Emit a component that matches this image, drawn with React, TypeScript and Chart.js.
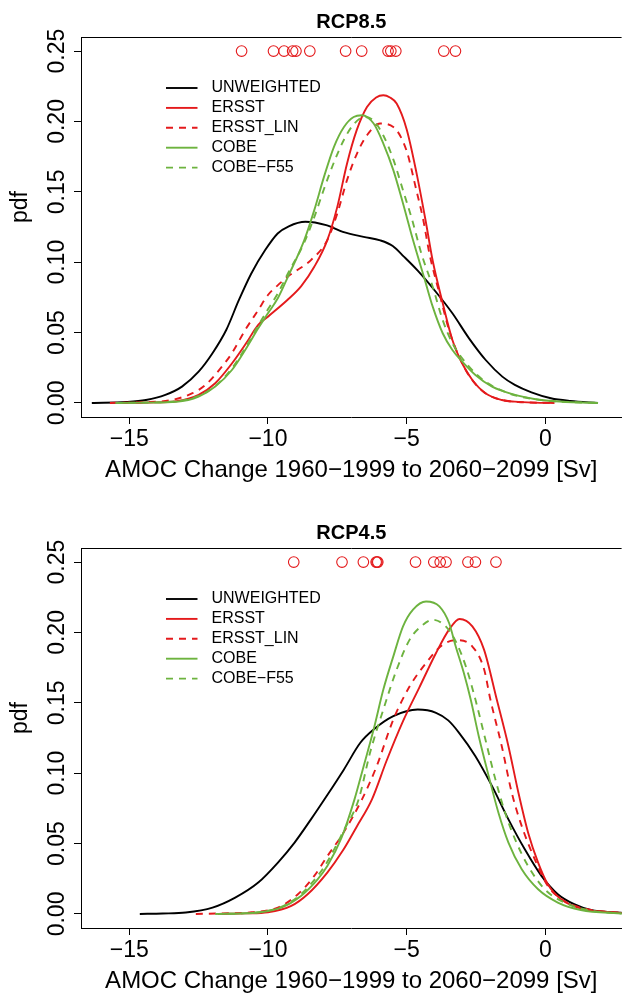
import React, { useEffect, useRef } from 'react';
import { Chart, registerables } from 'chart.js';

Chart.register(...registerables);

const FONT = '"Liberation Sans", Arial, Helvetica, sans-serif';
const BLACK = '#000000';
const RED = '#e41a1c';
const GREEN = '#6db33f';

const X_TICKS = [-15, -10, -5, 0];
const Y_TICKS = [0, 0.05, 0.1, 0.15, 0.2, 0.25];
const X_TITLE = 'AMOC Change 1960\u22121999 to 2060\u22122099 [Sv]';
const Y_TITLE = 'pdf';
const SERIES_LABELS = ['UNWEIGHTED', 'ERSST', 'ERSST_LIN', 'COBE', 'COBE\u2212F55'];
const MODEL_MARK_Y = 0.25;

// ---------- RCP8.5 ----------
const RCP85_MODELS = [-10.95, -9.8, -9.42, -9.11, -8.99, -8.49, -7.2, -6.62, -5.67, -5.57, -5.39, -3.66, -3.24];

const RCP85_UNWEIGHTED = [
  [-16.35, 0], [-15.1, 0.0007], [-14.4, 0.0021], [-13.7, 0.0057], [-13.1, 0.0116], [-12.5, 0.0222],
  [-12.0, 0.0353], [-11.5, 0.052], [-11.05, 0.073], [-10.6, 0.092], [-10.1, 0.1086], [-9.65, 0.1204],
  [-9.25, 0.1255], [-8.65, 0.1287], [-7.9, 0.1263], [-7.3, 0.1215], [-6.55, 0.118], [-5.95, 0.1155],
  [-5.5, 0.1115], [-5.1, 0.104], [-4.6, 0.094], [-3.95, 0.079], [-3.35, 0.0637], [-2.75, 0.0459],
  [-2.15, 0.0305], [-1.55, 0.0187], [-1.1, 0.0128], [-0.5, 0.0075], [0.2, 0.0033], [0.9, 0.0014], [1.9, 0],
];
const RCP85_ERSST = [
  [-15.3, 0], [-14.3, 0.0003], [-13.3, 0.0012], [-12.5, 0.0057], [-11.9, 0.014], [-11.3, 0.028],
  [-10.8, 0.042], [-10.35, 0.0555], [-10.0, 0.0613], [-9.3, 0.0731], [-8.8, 0.083], [-8.33, 0.0967],
  [-7.86, 0.1157], [-7.5, 0.1393], [-7.15, 0.17], [-6.8, 0.1938], [-6.43, 0.2103], [-6.1, 0.217],
  [-5.84, 0.2186], [-5.6, 0.217], [-5.36, 0.2127], [-5.0, 0.1945], [-4.65, 0.164], [-4.32, 0.13],
  [-4.06, 0.101], [-3.7, 0.071], [-3.35, 0.0447], [-3.0, 0.0282], [-2.63, 0.0163], [-2.16, 0.0069],
  [-1.57, 0.0021], [-1.1, 0.0009], [-0.4, 0.0002], [0.33, 0],
];
const RCP85_ERSST_LIN = [
  [-15.7, 0], [-14.5, 0.0005], [-13.5, 0.002], [-12.72, 0.0069], [-12.25, 0.0128], [-11.66, 0.0258],
  [-11.3, 0.0353], [-10.82, 0.0518], [-10.35, 0.066], [-10.0, 0.0767], [-9.64, 0.0837], [-9.2, 0.091],
  [-8.45, 0.1015], [-7.86, 0.1157], [-7.5, 0.1346], [-7.15, 0.1583], [-6.79, 0.1772], [-6.43, 0.1902],
  [-5.96, 0.1985], [-5.48, 0.1961], [-5.01, 0.1796], [-4.65, 0.1512], [-4.4, 0.13], [-4.18, 0.1062],
  [-3.82, 0.0779], [-3.47, 0.0518], [-3.11, 0.0329], [-2.7, 0.018], [-2.2, 0.0075], [-1.6, 0.0022],
  [-0.8, 0.0005], [0.3, 0],
];
const RCP85_COBE = [
  [-15.4, 0], [-14.3, 0.0002], [-13.3, 0.0008], [-12.5, 0.0045], [-11.9, 0.0116], [-11.3, 0.0234],
  [-10.82, 0.0376], [-10.35, 0.053], [-10.0, 0.0637], [-9.64, 0.0745], [-9.28, 0.0896], [-8.69, 0.1157],
  [-8.33, 0.137], [-7.98, 0.1606], [-7.62, 0.182], [-7.26, 0.1961], [-6.91, 0.2032], [-6.61, 0.2044],
  [-6.19, 0.1985], [-5.84, 0.1843], [-5.48, 0.1654], [-5.13, 0.1417], [-4.77, 0.1157], [-4.36, 0.0885],
  [-4.06, 0.0684], [-3.7, 0.0495], [-3.35, 0.0376], [-2.99, 0.0293], [-2.52, 0.0199], [-1.92, 0.0116],
  [-1.09, 0.0057], [-0.4, 0.0028], [0.2, 0.0014], [1.0, 0.0005], [1.9, 0],
];
const RCP85_COBE_F55 = [
  [-15.5, 0], [-14.3, 0.0003], [-13.3, 0.0012], [-12.5, 0.005], [-11.9, 0.012], [-11.3, 0.0245],
  [-10.82, 0.039], [-10.35, 0.055], [-10.0, 0.0665], [-9.64, 0.078], [-9.28, 0.092], [-8.69, 0.114],
  [-8.33, 0.132], [-7.98, 0.152], [-7.62, 0.171], [-7.26, 0.187], [-6.91, 0.198], [-6.52, 0.2032],
  [-6.19, 0.2005], [-5.84, 0.19], [-5.48, 0.173], [-5.13, 0.151], [-4.8, 0.13], [-4.47, 0.1062],
  [-4.06, 0.0826], [-3.7, 0.0589], [-3.35, 0.0424], [-2.75, 0.0258], [-2.16, 0.0151], [-1.33, 0.0069],
  [-0.5, 0.003], [0.5, 0.001], [1.9, 0],
];

// ---------- RCP4.5 ----------
const RCP45_MODELS = [-9.07, -7.33, -6.56, -6.1, -6.07, -6.04, -4.68, -4.02, -3.79, -3.58, -2.79, -2.52, -1.78];

const RCP45_UNWEIGHTED = [
  [-14.62, 0], [-13.8, 0.0003], [-12.96, 0.001], [-12.0, 0.0045], [-11.18, 0.0116], [-10.35, 0.0223],
  [-9.64, 0.0365], [-9.04, 0.0507], [-8.45, 0.0672], [-7.86, 0.0845], [-7.26, 0.1027], [-6.67, 0.1216],
  [-6.19, 0.131], [-5.48, 0.1405], [-4.6, 0.1452], [-3.94, 0.1429], [-3.5, 0.1375], [-3.11, 0.1287],
  [-2.52, 0.1121], [-1.92, 0.0908], [-1.33, 0.0672], [-0.74, 0.0459], [-0.14, 0.027], [0.45, 0.014],
  [1.04, 0.0069], [1.64, 0.0028], [2.6, 0.001], [3.5, 0.0002],
];
const RCP45_ERSST = [
  [-11.8, 0], [-10.8, 0.0004], [-10.0, 0.0012], [-9.16, 0.0057], [-8.57, 0.014], [-7.86, 0.0294],
  [-7.3, 0.045], [-6.8, 0.062], [-6.25, 0.0814], [-5.72, 0.109], [-5.13, 0.137], [-4.54, 0.161],
  [-3.94, 0.1854], [-3.47, 0.202], [-3.09, 0.2096], [-2.63, 0.2043], [-2.21, 0.1878], [-1.75, 0.1523],
  [-1.33, 0.1192], [-0.97, 0.0861], [-0.62, 0.0577], [-0.26, 0.0365], [0.09, 0.0211], [0.57, 0.0104],
  [1.28, 0.0038], [2.23, 0.0014], [3.3, 0],
];
const RCP45_ERSST_LIN = [
  [-12.6, 0], [-11.6, 0.0004], [-10.59, 0.0012], [-9.64, 0.0045], [-8.92, 0.014], [-8.33, 0.027],
  [-7.86, 0.041], [-7.3, 0.057], [-6.61, 0.0814], [-6.08, 0.105], [-5.48, 0.1381], [-4.89, 0.1617],
  [-4.3, 0.1783], [-3.7, 0.1913], [-3.2, 0.1945], [-2.63, 0.19], [-2.21, 0.174], [-1.98, 0.1523],
  [-1.57, 0.1192], [-1.21, 0.0861], [-0.85, 0.0624], [-0.38, 0.0388], [0.09, 0.0199], [0.69, 0.0092],
  [1.52, 0.0033], [2.5, 0.001], [3.3, 0],
];
const RCP45_COBE = [
  [-11.77, 0], [-11.0, 0.0003], [-10.35, 0.001], [-9.52, 0.0045], [-8.81, 0.0128], [-8.21, 0.0246],
  [-7.86, 0.034], [-7.35, 0.054], [-6.88, 0.0814], [-6.55, 0.105], [-6.19, 0.131], [-5.84, 0.1594],
  [-5.48, 0.183], [-5.13, 0.2043], [-4.77, 0.2162], [-4.3, 0.222], [-3.82, 0.2185], [-3.47, 0.2067],
  [-3.23, 0.19], [-2.95, 0.172], [-2.69, 0.1523], [-2.4, 0.1263], [-2.04, 0.0979], [-1.69, 0.0719],
  [-1.33, 0.0507], [-0.85, 0.0317], [-0.26, 0.0175], [0.45, 0.0081], [1.28, 0.0028], [2.6, 0.0005], [3.3, 0],
];
const RCP45_COBE_F55 = [
  [-11.9, 0], [-11.0, 0.0003], [-10.35, 0.0012], [-9.52, 0.005], [-8.81, 0.014], [-8.21, 0.027],
  [-7.86, 0.037], [-7.3, 0.058], [-6.73, 0.0814], [-6.32, 0.1145], [-5.84, 0.1452], [-5.36, 0.1736],
  [-4.89, 0.1949], [-4.41, 0.2055], [-4.06, 0.209], [-3.59, 0.2043], [-3.23, 0.1937], [-2.85, 0.175],
  [-2.52, 0.1523], [-2.16, 0.1239], [-1.8, 0.0956], [-1.45, 0.0719], [-1.09, 0.053], [-0.62, 0.034],
  [-0.02, 0.0175], [0.69, 0.0081], [1.52, 0.0028], [2.6, 0.0005], [3.3, 0],
];

const STYLES = [
  { color: BLACK, dash: [] as number[] },
  { color: RED, dash: [] as number[] },
  { color: RED, dash: [7, 6] },
  { color: GREEN, dash: [] as number[] },
  { color: GREEN, dash: [7, 6] },
];

const CANVAS_W = 628;
const CANVAS_H = 490;
const PLOT_TOP = 37;
const PLOT_BOTTOM = 417;
const PLOT_LEFT = 81;
const X_MIN = -16.74;
const X_MAX = 2.75;
const Y_MIN = -0.01;
const Y_MAX = 0.26;
const LINE_W = 1.9;

function fmtX(v: number) {
  return v < 0 ? '\u2212' + Math.abs(v) : String(v);
}

function decorPlugin(title: string) {
  return {
    id: 'decor',
    afterDraw(chart: any) {
      const { ctx, chartArea: a, scales } = chart;
      const ys = scales.y;
      ctx.save();
      // top border of the box
      ctx.strokeStyle = '#000';
      ctx.lineWidth = 1;
      ctx.setLineDash([]);
      ctx.beginPath();
      ctx.moveTo(a.left, Math.round(a.top) + 0.5);
      ctx.lineTo(a.right, Math.round(a.top) + 0.5);
      ctx.stroke();

      // y tick labels (rotated like R's las=0)
      ctx.fillStyle = '#000';
      ctx.font = `23px ${FONT}`;
      ctx.textAlign = 'center';
      ctx.textBaseline = 'alphabetic';
      ys.ticks.forEach((t: any) => {
        const py = ys.getPixelForValue(t.value);
        ctx.save();
        ctx.translate(64, py);
        ctx.rotate(-Math.PI / 2);
        ctx.fillText(Number(t.value).toFixed(2), 0, 0);
        ctx.restore();
      });

      // y axis title
      ctx.save();
      ctx.translate(27, 207);
      ctx.rotate(-Math.PI / 2);
      ctx.fillText(Y_TITLE, 0, 0);
      ctx.restore();

      // main title
      ctx.font = `bold 20px ${FONT}`;
      ctx.textAlign = 'center';
      ctx.fillText(title, (a.left + a.right) / 2, 28);

      // legend
      ctx.font = `16px ${FONT}`;
      ctx.textAlign = 'left';
      ctx.textBaseline = 'middle';
      SERIES_LABELS.forEach((lab, i) => {
        const yy = 88 + i * 19.9;
        const st = STYLES[i];
        ctx.strokeStyle = st.color;
        ctx.lineWidth = LINE_W;
        ctx.setLineDash(st.dash);
        ctx.beginPath();
        ctx.moveTo(166, yy);
        ctx.lineTo(197.5, yy);
        ctx.stroke();
        ctx.setLineDash([]);
        ctx.fillStyle = '#000';
        ctx.fillText(lab, 211.5, yy);
      });
      ctx.restore();
    },
  };
}

function PdfPanel(props: { top: number; title: string; series: number[][][]; models: number[] }) {
  const ref = useRef<HTMLCanvasElement | null>(null);
  useEffect(() => {
    const canvas = ref.current;
    if (!canvas) return;
    const orders = [5, 4, 3, 2, 1];
    const lineSets = props.series.map((pts, i) => ({
      type: 'scatter' as const,
      label: SERIES_LABELS[i],
      data: pts.map((p) => ({ x: p[0], y: p[1] })),
      showLine: true,
      borderColor: STYLES[i].color,
      backgroundColor: STYLES[i].color,
      borderWidth: LINE_W,
      borderDash: STYLES[i].dash,
      pointRadius: 0,
      cubicInterpolationMode: 'monotone' as const,
      order: orders[i],
    }));
    const modelSet = {
      type: 'scatter' as const,
      label: 'models',
      data: props.models.map((v) => ({ x: v, y: MODEL_MARK_Y })),
      showLine: false,
      pointStyle: 'circle',
      pointRadius: 5.3,
      pointBorderWidth: 1.1,
      pointBorderColor: RED,
      pointBackgroundColor: 'rgba(0,0,0,0)',
      borderColor: RED,
      backgroundColor: 'rgba(0,0,0,0)',
      order: 0,
    };
    const chart = new Chart(canvas, {
      type: 'scatter',
      data: { datasets: [...lineSets, modelSet] as any },
      options: {
        animation: false,
        responsive: false,
        maintainAspectRatio: false,
        events: [],
        layout: { padding: { top: PLOT_TOP, left: 0, right: 0, bottom: 0 } },
        plugins: {
          legend: { display: false },
          title: { display: false },
          tooltip: { enabled: false },
        },
        scales: {
          x: {
            type: 'linear',
            position: 'bottom',
            min: X_MIN,
            max: X_MAX,
            afterFit: (s: any) => {
              s.height = CANVAS_H - PLOT_BOTTOM;
            },
            afterBuildTicks: (s: any) => {
              s.ticks = X_TICKS.map((v) => ({ value: v }));
            },
            grid: { display: true, drawOnChartArea: false, drawTicks: true, tickLength: 7, color: '#000', lineWidth: 1 },
            border: { display: true, color: '#000', width: 1 },
            ticks: {
              autoSkip: false,
              maxRotation: 0,
              minRotation: 0,
              padding: 2,
              color: '#000',
              font: { family: FONT, size: 23 },
              callback: (v: any) => fmtX(Number(v)),
            },
            title: {
              display: true,
              text: X_TITLE,
              color: '#000',
              font: { family: FONT, size: 24 },
              padding: { top: 0, bottom: 5 },
            },
          },
          y: {
            type: 'linear',
            position: 'left',
            min: Y_MIN,
            max: Y_MAX,
            afterFit: (s: any) => {
              s.width = PLOT_LEFT;
            },
            afterBuildTicks: (s: any) => {
              s.ticks = Y_TICKS.map((v) => ({ value: v }));
            },
            grid: { display: true, drawOnChartArea: false, drawTicks: true, tickLength: 7, color: '#000', lineWidth: 1 },
            border: { display: true, color: '#000', width: 1 },
            ticks: { display: false },
          },
        },
      },
      plugins: [decorPlugin(props.title)],
    } as any);
    return () => chart.destroy();
  }, []);
  return (
    <div
      style={{
        position: 'absolute',
        left: 0,
        top: props.top,
        width: 623,
        height: CANVAS_H,
        overflow: 'hidden',
        background: '#fff',
      }}
    >
      <canvas ref={ref} width={CANVAS_W} height={CANVAS_H} style={{ display: 'block', width: CANVAS_W, height: CANVAS_H }} />
    </div>
  );
}

export default function App() {
  return (
    <div style={{ position: 'absolute', left: 0, top: 0, width: 623, height: 999, background: '#fff', overflow: 'hidden' }}>
      <PdfPanel
        top={0}
        title="RCP8.5"
        series={[RCP85_UNWEIGHTED, RCP85_ERSST, RCP85_ERSST_LIN, RCP85_COBE, RCP85_COBE_F55]}
        models={RCP85_MODELS}
      />
      <PdfPanel
        top={511}
        title="RCP4.5"
        series={[RCP45_UNWEIGHTED, RCP45_ERSST, RCP45_ERSST_LIN, RCP45_COBE, RCP45_COBE_F55]}
        models={RCP45_MODELS}
      />
    </div>
  );
}
